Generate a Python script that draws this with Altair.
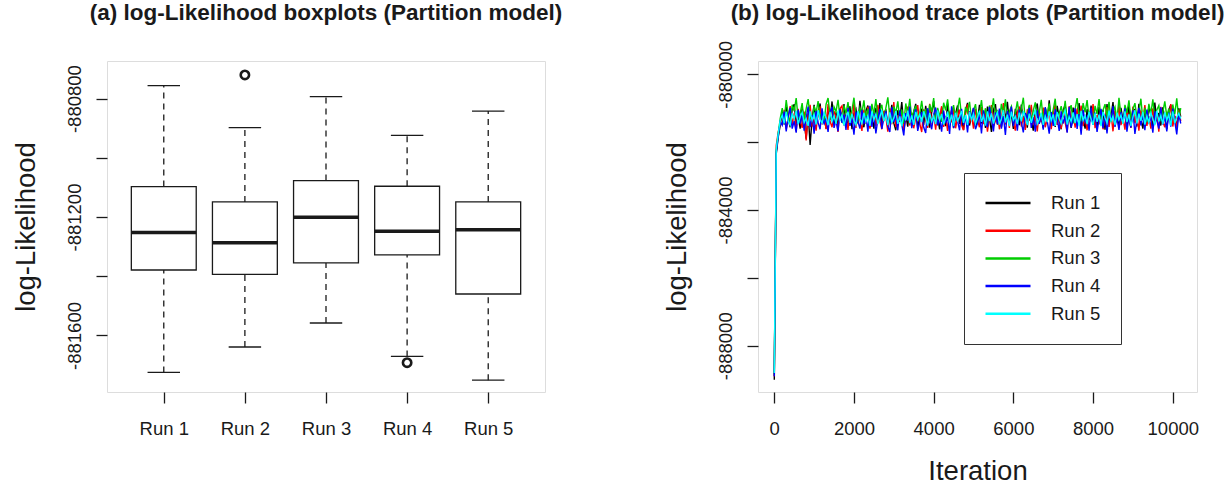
import altair as alt
import pandas as pd

FONT = "Liberation Sans"
INK = "#1a1a1a"

# ---------------- (a) boxplot summaries per run ----------------
RUNS = ["Run 1", "Run 2", "Run 3", "Run 4", "Run 5"]
RUN_POS = [1, 2, 3, 4, 5]
WHISK_HI = [-880756, -880898, -880793, -880924, -880842]
Q3 = [-881097, -881149, -881077, -881096, -881149]
MEDIAN = [-881252, -881287, -881201, -881248, -881243]
Q1 = [-881379, -881394, -881355, -881328, -881460]
WHISK_LO = [-881725, -881639, -881558, -881671, -881751]
OUTLIER_POS = [2, 4]
OUTLIER_VAL = [-880720, -881692]

# ---------------- (b) trace values per run ----------------
BURN_ITER = [1, 50, 100, 150]
BURN = {
    "Run 1": [-889000, -882350, -881850, -881500],
    "Run 2": [-888900, -882100, -881700, -881450],
    "Run 3": [-888850, -882250, -881750, -881300],
    "Run 4": [-888900, -882300, -881800, -881400],
    "Run 5": [-888800, -882200, -881750, -881350],
}
TRACE_ITER = list(range(200, 10201, 50))
TRACE = {
    "Run 1": [
        -881100, -881480, -880950, -881320, -881560, -881020, -880880, -881450, -881230, -881600,
        -881000, -881380, -881900, -881150, -882080, -881300, -880900, -881520, -881180, -880860,
        -881420, -881250, -881600, -880970, -881340, -880800, -881480, -881120, -881560, -881000,
        -881280, -880880, -881500, -881390, -880940, -881620, -881150, -881020, -881450, -880780,
        -881330, -881560, -881080, -880920, -881480, -881240, -881600, -880990, -881360, -880850,
        -881510, -881170, -881030, -881580, -881290, -880900, -881440, -881650, -881060, -881310,
        -880820, -881470, -881200, -881540, -880960, -881380, -881100, -880870, -881600, -881250,
        -881010, -881490, -880930, -881350, -881570, -881120, -880790, -881430, -881280, -881620,
        -880980, -881200, -881530, -880860, -881400, -881050, -881590, -881160, -880920, -881460,
        -881300, -881640, -881070, -880840, -881510, -881230, -881000, -881560, -881360, -880900,
        -881450, -881130, -881580, -880950, -881290, -881700, -881040, -880880, -881480, -881210,
        -881550, -880970, -881340, -880810, -881420, -881180, -881610, -881020, -881270, -881500,
        -880890, -881380, -881150, -881570, -880940, -881320, -881660, -881080, -880860, -881440,
        -881250, -881590, -881000, -881370, -880770, -881480, -881130, -881550, -880930, -881300,
        -881620, -881060, -880900, -881460, -881220, -881580, -880980, -881410, -881110, -880850,
        -881520, -881280, -881600, -881030, -881350, -880920, -881470, -881190, -881560, -880960,
        -881320, -881050, -881630, -880880, -881400, -881240, -880820, -881500, -881160, -881570,
        -880990, -881360, -881110, -881590, -880910, -881450, -881270, -881020, -881540, -880870,
        -881310, -881600, -881090, -881430, -880950, -881210, -881560, -880830, -881380, -881140,
        -881510, -880970, -881290, -881620, -881050, -880900, -881470, -881230, -881580, -881000,
        -881250,
    ],
    "Run 2": [
        -881450, -881050, -881620, -881280, -880940, -881500, -881150, -881680, -881020, -881360,
        -881580, -881100, -881950, -881230, -880900, -881540, -881310, -881660, -881070, -880980,
        -881480, -881200, -881620, -880880, -881390, -881560, -881090, -881270, -881700, -881010,
        -880930, -881510, -881240, -881640, -881120, -881420, -880850, -881580, -881180, -881330,
        -881670, -881040, -881460, -880960, -881600, -881290, -881150, -881530, -880900, -881380,
        -881620, -881080, -881250, -881690, -881000, -881470, -880820, -881560, -881210, -881400,
        -881060, -881640, -881320, -880950, -881510, -881140, -881590, -881270, -880910, -881450,
        -881700, -881030, -881360, -881580, -880870, -881480, -881190, -881630, -881060, -881300,
        -880940, -881550, -881230, -881670, -881100, -881420, -880980, -881590, -881280, -881040,
        -881500, -881650, -881170, -880890, -881440, -881210, -881600, -881020, -881350, -881560,
        -880960, -881470, -881130, -881690, -881250, -880910, -881530, -881380, -881070, -881620,
        -881300, -880850, -881480, -881180, -881580, -881000, -881420, -881660, -881110, -880950,
        -881540, -881260, -881640, -881030, -881370, -880900, -881500, -881210, -881680, -881090,
        -881400, -880980, -881560, -881320, -881040, -881620, -881170, -880870, -881490, -881280,
        -881600, -881060, -881430, -881700, -880940, -881350, -881140, -881570, -881010, -881460,
        -880920, -881530, -881240, -881650, -881100, -881390, -880880, -881590, -881200, -881480,
        -881050, -881620, -881310, -880970, -881550, -881160, -881680, -881080, -881410, -880900,
        -881500, -881270, -881630, -881020, -881360, -881580, -880950, -881440, -881190, -881660,
        -881070, -881340, -880910, -881520, -881230, -881600, -881000, -881470, -881130, -881690,
        -880960, -881400, -881560, -881110, -881290, -880880, -881540, -881220, -881620, -881050,
        -881380,
    ],
    "Run 3": [
        -881000, -881350, -880760, -881180, -881420, -880900, -881080, -880700, -881300, -881150,
        -880850, -881400, -881020, -880730, -881260, -881380, -880940, -881120, -880790, -881330,
        -881060, -881430, -880880, -880700, -881200, -881360, -880960, -881100, -880750, -881290,
        -881400, -880920, -881150, -880820, -881340, -881050, -880690, -881230, -881420, -880980,
        -881130, -880770, -881310, -881010, -881440, -880870, -881180, -880730, -881280, -881070,
        -880900, -881380, -881000, -880680, -881250, -881410, -880950, -881140, -880800, -881320,
        -881040, -881450, -880860, -881190, -880720, -881300, -881090, -880930, -881370, -881160,
        -880780, -881270, -881020, -881430, -880890, -881110, -880700, -881340, -880990, -881210,
        -881400, -880840, -881060, -880740, -881290, -881150, -880910, -881360, -881030, -880690,
        -881240, -881420, -880960, -881120, -880810, -881330, -881070, -880880, -881390, -881170,
        -880760, -881300, -881000, -881440, -880920, -881130, -880710, -881260, -881050, -881380,
        -880870, -881190, -880740, -881320, -881090, -880950, -881410, -881140, -880800, -881250,
        -881020, -880690, -881350, -881180, -880900, -881430, -881060, -880830, -881280, -881110,
        -880750, -881370, -880980, -881200, -880860, -881310, -881040, -880720, -881400, -881150,
        -880940, -881260, -880780, -881340, -881080, -880910, -881450, -881020, -880700, -881230,
        -881380, -880850, -881120, -880760, -881290, -881010, -881420, -880930, -881170, -880730,
        -881330, -881060, -880880, -881250, -880810, -881400, -881100, -880960, -881360, -880690,
        -881200, -881440, -880900, -881140, -880770, -881310, -881030, -880850, -881270, -881090,
        -880720, -881350, -880990, -881410, -880870, -881160, -880740, -881300, -881050, -880920,
        -881380, -881120, -880800, -881240, -881010, -881430, -880890, -881180, -880710, -881320,
        -881000,
    ],
    "Run 4": [
        -881500, -881100, -881680, -881250, -880980, -881600, -881380, -881720, -881050, -881450,
        -881150, -881660, -881300, -880950, -881560, -881200, -881750, -881080, -881420, -881620,
        -881000, -881480, -881280, -881700, -881120, -880960, -881580, -881350, -881680, -881030,
        -881430, -881190, -881640, -880990, -881520, -881300, -881780, -881100, -881400, -881600,
        -881050, -881470, -881230, -881690, -880930, -881550, -881160, -881740, -881320, -881020,
        -881610, -881280, -881090, -881530, -881700, -880970, -881410, -881210, -881650, -881060,
        -881480, -881800, -881140, -881360, -880950, -881590, -881250, -881030, -881670, -881400,
        -881110, -881560, -881730, -881000, -881340, -881620, -881180, -880980, -881510, -881290,
        -881690, -881070, -881440, -881260, -881760, -880940, -881580, -881150, -881380, -881650,
        -881020, -881500, -881220, -881710, -881090, -881330, -880990, -881620, -881440, -881170,
        -881740, -881060, -881390, -881560, -880960, -881280, -881680, -881120, -881470, -881010,
        -881600, -881230, -881790, -881080, -881350, -880950, -881530, -881180, -881660, -881040,
        -881420, -881710, -881140, -881300, -880990, -881580, -881260, -881690, -881070, -881460,
        -881200, -881630, -880970, -881380, -881750, -881110, -881520, -881030, -881290, -881670,
        -881090, -881450, -881220, -881720, -880960, -881560, -881340, -881000, -881610, -881170,
        -881780, -881050, -881400, -881250, -881660, -880980, -881490, -881130, -881700, -881310,
        -881020, -881590, -881190, -881740, -881080, -881370, -880940, -881550, -881270, -881640,
        -881110, -881430, -881000, -881690, -881240, -881570, -881060, -881760, -881320, -880990,
        -881510, -881160, -881650, -881040, -881410, -881280, -881720, -881090, -881360, -881600,
        -880970, -881480, -881210, -881680, -881130, -881540, -881010, -881390, -881770, -881150,
        -881450,
    ],
    "Run 5": [
        -881200, -881450, -881100, -881380, -881500, -881150, -881320, -881080, -881470, -881250,
        -881120, -881420, -881300, -881520, -881090, -881360, -881180, -881480, -881060, -881330,
        -881440, -881140, -881270, -881500, -881110, -881390, -881230, -881460, -881070, -881350,
        -881190, -881510, -881280, -881100, -881430, -881160, -881370, -881490, -881080, -881310,
        -881450, -881130, -881400, -881220, -881520, -881090, -881340, -881170, -881470, -881260,
        -881060, -881380, -881200, -881500, -881120, -881420, -881290, -881080, -881460, -881240,
        -881530, -881150, -881360, -881070, -881440, -881210, -881490, -881110, -881330, -881180,
        -881410, -881090, -881280, -881510, -881140, -881390, -881230, -881470, -881060, -881350,
        -881170, -881480, -881300, -881100, -881440, -881190, -881520, -881130, -881370, -881250,
        -881080, -881430, -881200, -881490, -881110, -881340, -881160, -881460, -881280, -881070,
        -881400, -881220, -881510, -881090, -881380, -881150, -881450, -881260, -881120, -881480,
        -881310, -881060, -881420, -881190, -881530, -881100, -881350, -881240, -881470, -881130,
        -881390, -881080, -881270, -881500, -881160, -881430, -881210, -881070, -881460, -881330,
        -881140, -881490, -881230, -881410, -881090, -881370, -881180, -881520, -881110, -881300,
        -881450, -881200, -881060, -881480, -881250, -881390, -881120, -881440, -881170, -881510,
        -881080, -881360, -881220, -881470, -881100, -881320, -881490, -881150, -881400, -881190,
        -881530, -881110, -881280, -881430, -881070, -881380, -881240, -881500, -881130, -881340,
        -881200, -881460, -881090, -881410, -881180, -881520, -881260, -881060, -881450, -881160,
        -881370, -881100, -881480, -881230, -881420, -881140, -881310, -881500, -881080, -881390,
        -881210, -881470, -881120, -881350, -881190, -881510, -881090, -881440, -881260, -881150,
        -881300,
    ],
}
RUN_COLORS = ["#000000", "#FF0000", "#00CD00", "#0000FF", "#00FFFF"]

# ---------------- tables ----------------
box_df = pd.DataFrame({
    "run": RUNS, "pos": RUN_POS, "whi": WHISK_HI, "q3": Q3,
    "median": MEDIAN, "q1": Q1, "wlo": WHISK_LO,
})
out_df = pd.DataFrame({"pos": OUTLIER_POS, "value": OUTLIER_VAL})

rows = []
for run in RUNS:
    for it, v in zip(BURN_ITER + TRACE_ITER, BURN[run] + TRACE[run]):
        rows.append({"iter": it, "value": v, "run": run})
trace_df = pd.DataFrame(rows)

# ---------------- shared axis styling ----------------
AXIS_STYLE = dict(
    domain=False, grid=False, ticks=True, tickSize=11, tickWidth=1.3, tickColor=INK,
    labelFont=FONT, labelFontSize=18.5, labelColor=INK, labelFlush=False, labelOverlap=False,
    titleFont=FONT, titleFontSize=27.5, titleFontWeight="normal", titleColor=INK,
)


def y_axis(values, every):
    return alt.Axis(
        values=values,
        labelExpr=f"datum.value % {every} == 0 ? '' + datum.value : ''",
        title="log-Likelihood",
        labelAngle=270, labelAlign="center", labelBaseline="alphabetic", labelPadding=16,
        titleAngle=270, titleX=-73, titleY=165.5, titleAlign="center",
        titleBaseline="alphabetic",
        **AXIS_STYLE,
    )


# ---------------- (a) boxplots ----------------
bx_scale = alt.Scale(domain=[0.3, 5.7], nice=False, zero=False)
by_scale = alt.Scale(domain=[-881791, -880673], nice=False, zero=False)
bx_axis = alt.Axis(
    values=RUN_POS, labelExpr="'Run ' + datum.value", title=None,
    labelAngle=0, labelBaseline="top", labelPadding=16, **AXIS_STYLE,
)
by_axis = y_axis([-881600, -881400, -881200, -881000, -880800], 400)

base = alt.Chart(box_df).transform_calculate(
    box_l="datum.pos - 0.4", box_r="datum.pos + 0.4",
    cap_l="datum.pos - 0.2", cap_r="datum.pos + 0.2",
)

whisk_hi = base.mark_rule(color=INK, strokeWidth=1.3, strokeDash=[6, 5]).encode(
    x=alt.X("pos:Q", scale=bx_scale, axis=bx_axis),
    y=alt.Y("q3:Q", scale=by_scale, axis=by_axis),
    y2="whi:Q",
)
whisk_lo = base.mark_rule(color=INK, strokeWidth=1.3, strokeDash=[6, 5]).encode(
    x=alt.X("pos:Q", scale=bx_scale, axis=bx_axis),
    y=alt.Y("wlo:Q", scale=by_scale, axis=by_axis),
    y2="q1:Q",
)
cap_hi = base.mark_rule(color=INK, strokeWidth=1.3).encode(
    x=alt.X("cap_l:Q", scale=bx_scale, axis=bx_axis), x2="cap_r:Q",
    y=alt.Y("whi:Q", scale=by_scale, axis=by_axis),
)
cap_lo = base.mark_rule(color=INK, strokeWidth=1.3).encode(
    x=alt.X("cap_l:Q", scale=bx_scale, axis=bx_axis), x2="cap_r:Q",
    y=alt.Y("wlo:Q", scale=by_scale, axis=by_axis),
)
boxes = base.mark_rect(fill="white", stroke=INK, strokeWidth=1.3).encode(
    x=alt.X("box_l:Q", scale=bx_scale, axis=bx_axis), x2="box_r:Q",
    y=alt.Y("q1:Q", scale=by_scale, axis=by_axis), y2="q3:Q",
)
medians = base.mark_rule(color=INK, strokeWidth=3.5).encode(
    x=alt.X("box_l:Q", scale=bx_scale, axis=bx_axis), x2="box_r:Q",
    y=alt.Y("median:Q", scale=by_scale, axis=by_axis),
)
outliers = alt.Chart(out_df).mark_point(
    shape="circle", filled=False, size=70, strokeWidth=2.6, color=INK, opacity=1,
).encode(
    x=alt.X("pos:Q", scale=bx_scale, axis=bx_axis),
    y=alt.Y("value:Q", scale=by_scale, axis=by_axis),
)

left = alt.layer(whisk_hi, whisk_lo, cap_hi, cap_lo, boxes, medians, outliers).properties(
    width=438, height=331,
    title=alt.TitleParams(
        "(a) log-Likelihood boxplots (Partition model)", font=FONT, fontSize=22.5,
        fontWeight="bold", color=INK, anchor="middle", baseline="alphabetic", offset=19,
    ),
)

# ---------------- (b) trace plots ----------------
tx_axis = alt.Axis(
    values=[0, 2000, 4000, 6000, 8000, 10000], labelExpr="'' + datum.value",
    title="Iteration", labelAngle=0, labelBaseline="top", labelPadding=16,
    titleY=87, titleBaseline="alphabetic", **AXIS_STYLE,
)
ty_axis = y_axis([-888000, -886000, -884000, -882000, -880000], 4000)

# legend position is measured from the left panel's plot origin
right = alt.Chart(trace_df).mark_line(strokeWidth=1.4).encode(
    x=alt.X("iter:Q", scale=alt.Scale(domain=[-408, 10608], nice=False, zero=False), axis=tx_axis),
    y=alt.Y("value:Q", scale=alt.Scale(domain=[-889363, -879608], nice=False, zero=False), axis=ty_axis),
    color=alt.Color(
        "run:N",
        scale=alt.Scale(domain=RUNS, range=RUN_COLORS),
        legend=alt.Legend(
            orient="none", legendX=857, legendY=112, title=None,
            symbolType="stroke", symbolSize=2025, symbolStrokeWidth=2.5,
            labelFont=FONT, labelFontSize=18.5, labelColor=INK, labelOffset=19,
            padding=20, clipHeight=20, rowPadding=7.7, strokeColor="#333333",
        ),
    ),
    order=alt.Order("iter:Q"),
).properties(
    width=439, height=331,
    title=alt.TitleParams(
        "(b) log-Likelihood trace plots (Partition model)", font=FONT, fontSize=22.5,
        fontWeight="bold", color=INK, anchor="middle", baseline="alphabetic", offset=-2,
    ),
)

chart = alt.hconcat(left, right, spacing=99).configure_view(
    stroke=INK, strokeWidth=1.4,
).configure(
    padding={"left": 11, "top": 1, "right": 0, "bottom": 0},
    background="white",
)

chart.save("out.html", embed_options={"renderer": "svg", "actions": False})
